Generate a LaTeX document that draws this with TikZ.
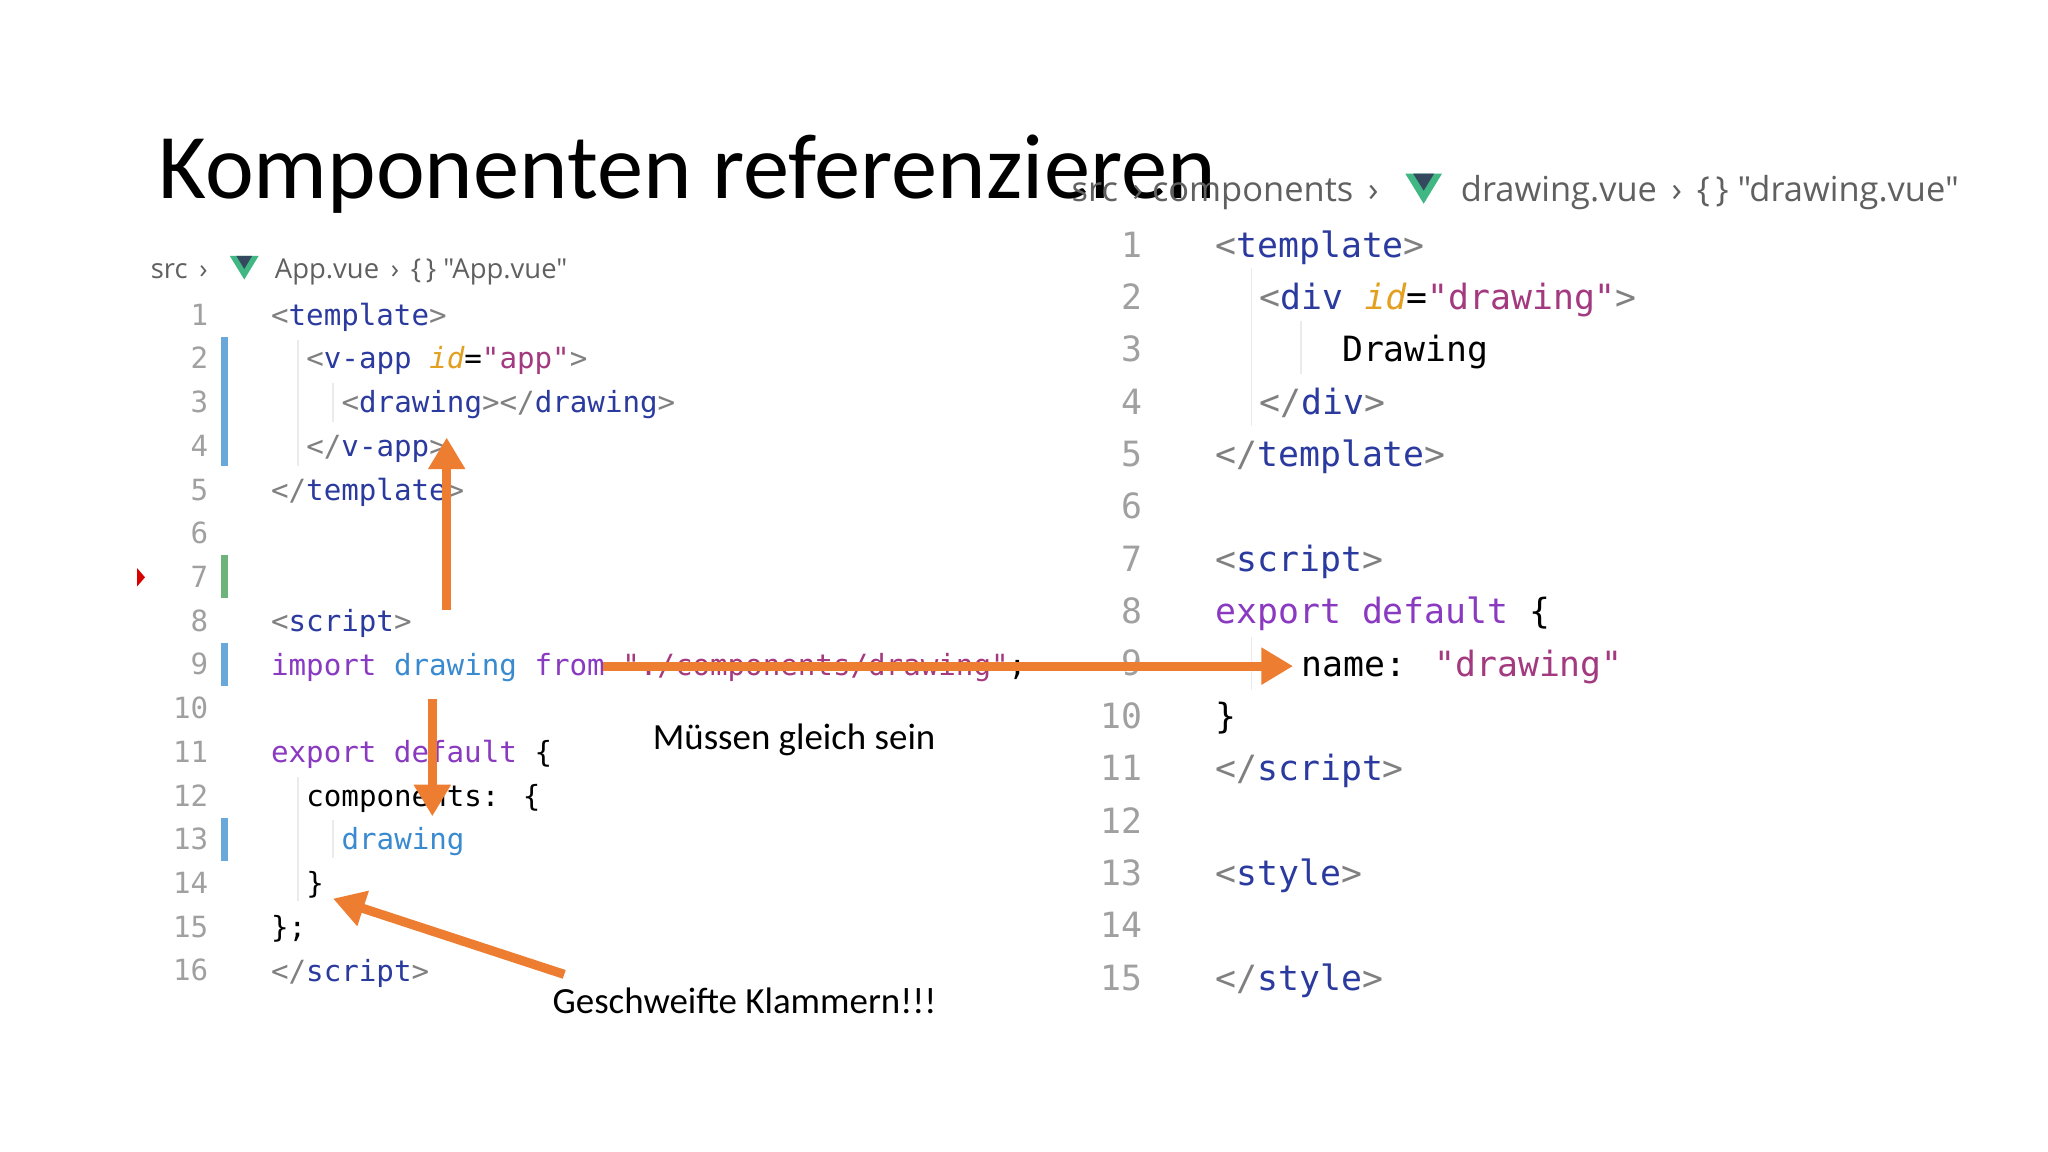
\documentclass[tikz,border=0pt]{standalone}
\usepackage{fontspec}
\setmainfont{Carlito}
\newfontfamily\codef{DejaVu Sans Mono}
\newfontfamily\crumbf{Open Sans}
\usetikzlibrary{arrows.meta}
\definecolor{tagc}{HTML}{808080}
\definecolor{tname}{HTML}{2B3A9E}
\definecolor{attrc}{HTML}{E3A020}
\definecolor{strc}{HTML}{A33A80}
\definecolor{kwc}{HTML}{8A3AC0}
\definecolor{idc}{HTML}{3A8AD0}
\definecolor{lnc}{HTML}{A0A0A0}
\definecolor{arr}{HTML}{ED7D31}
\definecolor{crumb}{HTML}{606060}
\definecolor{barb}{HTML}{6AA8DA}
\definecolor{barg}{HTML}{6DB37A}
\definecolor{vueg}{HTML}{41B883}
\definecolor{vued}{HTML}{35495E}
\newcommand\Ta[1]{\textcolor{tagc}{<}\textcolor{tname}{#1}\textcolor{tagc}{>}}
\newcommand\Tc[1]{\textcolor{tagc}{</}\textcolor{tname}{#1}\textcolor{tagc}{>}}
\tikzset{
 lc/.style={anchor=base west,inner sep=0,font=\codef\fontsize{8.3}{10}\selectfont},
 rc/.style={anchor=base west,inner sep=0,font=\codef\fontsize{9.9}{12}\selectfont},
 lnl/.style={anchor=base east,inner sep=0,text=lnc,font=\codef\fontsize{8.3}{10}\selectfont},
 lnr/.style={anchor=base east,inner sep=0,text=lnc,font=\codef\fontsize{9.9}{12}\selectfont},
 crl/.style={anchor=base west,inner sep=0,text=crumb,font=\crumbf\fontsize{7.8}{9}\selectfont},
 crr/.style={anchor=base west,inner sep=0,text=crumb,font=\crumbf\fontsize{9.8}{11}\selectfont},
 note/.style={anchor=base,inner sep=0,font=\fontsize{10.5}{12}\selectfont},
 oarrow/.style={draw=arr,line width=2.6pt,-{Triangle[length=9pt,width=10pt]}},
 bar/.style={line width=2pt},
 guide/.style={draw=black!8,line width=0.4pt},
}
\begin{document}
\begin{tikzpicture}[x=0.013061cm,y=-0.013061cm]
\useasboundingbox (0,0) rectangle (1568,882);
\fill[white] (0,0) rectangle (1568,882);
% title
\node[anchor=base west,inner sep=0,font=\fontsize{26.3}{30}\selectfont] (title) at (121,152) {Komponenten referenzieren};
% left breadcrumb
\node[crl] (lcr1) at (115,213) {src \,›};
\fill[vueg] (176,196) -- (198,196) -- (187,214) -- cycle;
\fill[vued] (181,196) -- (193,196) -- (187,206) -- cycle;
\node[crl] (lcr2) at (210,213) {App.vue \,› \,\{\,\} "App.vue"};
% right breadcrumb
\node[crr] (rcr1) at (820,154) {src \,› components \,›};
\fill[vueg] (1076,133) -- (1104,133) -- (1090,156) -- cycle;
\fill[vued] (1082,133) -- (1098,133) -- (1090,146) -- cycle;
\node[crr] (rcr2) at (1118,154) {drawing.vue \,› \,\{\,\} "drawing.vue"};
% left guides and bars
\draw[guide] (228,260) -- (228,357);
\draw[guide] (255,293) -- (255,323);
\draw[guide] (228,595) -- (228,690);
\draw[guide] (255,628) -- (255,657);
\draw[barb,bar] (172,258) -- (172,357);
\draw[barg,bar] (172,425) -- (172,458);
\draw[barb,bar] (172,492) -- (172,525);
\draw[barb,bar] (172,626) -- (172,659);
\fill[red!85!black] (105,435) -- (111,442) -- (105,449) -- cycle;
% left line numbers
\foreach \n [count=\i from 0] in {1,...,16}
  \node[lnl] (ll\n) at (160,249+33.47*\i) {\n};
% left code
\node[lc] (l1) at (207,249) {\Ta{template}};
\node[lc] (l2) at (234,282.5) {\textcolor{tagc}{<}\textcolor{tname}{v-app} \textcolor{attrc}{\itshape id}=\textcolor{strc}{"app"}\textcolor{tagc}{>}};
\node[lc] (l3) at (261,316) {\Ta{drawing}\Tc{drawing}};
\node[lc] (l4) at (234,349.4) {\Tc{v-app}};
\node[lc] (l5) at (207,382.9) {\Tc{template}};
\node[lc] (l8) at (207,483.3) {\Ta{script}};
\node[lc] (l9) at (207,516.8) {\textcolor{kwc}{import} \textcolor{idc}{drawing} \textcolor{kwc}{from} \textcolor{strc}{"./components/drawing"};};
\node[lc] (l11) at (207,583.7) {\textcolor{kwc}{export default} \{};
\node[lc] (l12) at (234,617.2) {components: \{};
\node[lc] (l13) at (261,650.7) {\textcolor{idc}{drawing}};
\node[lc] (l14) at (234,684.1) {\}};
\node[lc] (l15) at (207,717.6) {\};};
\node[lc] (l16) at (207,751.1) {\Tc{script}};
% right guides
\draw[guide] (958,205) -- (958,326);
\draw[guide] (996,246) -- (996,286);
\draw[guide] (958,488) -- (958,528);
% right line numbers
\foreach \n [count=\i from 0] in {1,...,15}
  \node[lnr] (rl\n) at (875,197+40.07*\i) {\n};
\node[rc] (r1) at (930,197) {\Ta{template}};
\node[rc] (r2) at (964,237.1) {\textcolor{tagc}{<}\textcolor{tname}{div} \textcolor{attrc}{\itshape id}=\textcolor{strc}{"drawing"}\textcolor{tagc}{>}};
\node[rc] (r3) at (1027,277.1) {Drawing};
\node[rc] (r4) at (964,317.2) {\Tc{div}};
\node[rc] (r5) at (930,357.3) {\Tc{template}};
\node[rc] (r7) at (930,437.4) {\Ta{script}};
\node[rc] (r8) at (930,477.5) {\textcolor{kwc}{export default} \{};
\node[rc] (r9) at (996,517.6) {name: \textcolor{strc}{"drawing"}};
\node[rc] (r10) at (930,557.6) {\}};
\node[rc] (r11) at (930,597.7) {\Tc{script}};
\node[rc] (r13) at (930,677.9) {\Ta{style}};
\node[rc] (r15) at (930,758) {\Tc{style}};
% notes
\node[note] (n1) at (608,574) {Müssen gleich sein};
\node[note] (n2) at (570,776) {Geschweifte Klammern!!!};
% arrows
\coordinate (a1s) at (342,467); \coordinate (a1e) at (342,335);
\coordinate (a2s) at (462,510); \coordinate (a2e) at (990,510);
\coordinate (a3s) at (331,535); \coordinate (a3e) at (331,625);
\coordinate (a4s) at (432,746); \coordinate (a4e) at (255,688);
\draw[oarrow] (a1s) -- (a1e);
\draw[oarrow] (a2s) -- (a2e);
\draw[oarrow] (a3s) -- (a3e);
\draw[oarrow] (a4s) -- (a4e);
\end{tikzpicture}
\end{document}
